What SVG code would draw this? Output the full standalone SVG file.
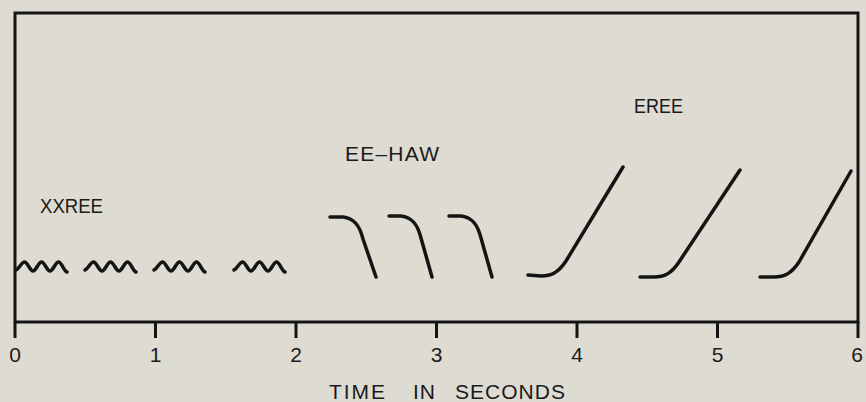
<svg xmlns="http://www.w3.org/2000/svg" width="866" height="402" viewBox="0 0 866 402">
<defs>
<style>
.bg{fill:#dedcd2}
.frame{fill:none;stroke:#141414;stroke-width:3}
.tick{stroke:#141414;stroke-width:3}
.tr{fill:none;stroke:#141414;stroke-width:3.5;stroke-linecap:round;stroke-linejoin:round}
.lbl{font-family:"Liberation Sans","DejaVu Sans",sans-serif;font-size:21px;fill:#1a1a1a}
.num{font-family:"Liberation Sans","DejaVu Sans",sans-serif;font-size:21px;fill:#1a1a1a;text-anchor:middle}
</style>
<path id="wave" d="M0,270 C3,269 5.5,262 8.5,262 C11.5,262 14,271 17,271 C20,271 22.5,262 25.5,262 C28.5,262 31,271 34,271 C37,271 39.5,262 42.5,262 C45.5,262 48,271 51,272"/>
</defs>
<rect class="bg" x="0" y="0" width="866" height="402"/>
<g id="axes">
<path class="frame" d="M15,322 L15,13 L858,13 L858,322 Z"/>
<line class="tick" x1="15" y1="322" x2="15" y2="338"/>
<line class="tick" x1="155.5" y1="322" x2="155.5" y2="338"/>
<line class="tick" x1="296" y1="322" x2="296" y2="338"/>
<line class="tick" x1="436.5" y1="322" x2="436.5" y2="338"/>
<line class="tick" x1="577" y1="322" x2="577" y2="338"/>
<line class="tick" x1="717.5" y1="322" x2="717.5" y2="338"/>
<line class="tick" x1="858" y1="322" x2="858" y2="338"/>
<text class="num" x="15" y="362">0</text>
<text class="num" x="155.5" y="362">1</text>
<text class="num" x="296" y="362">2</text>
<text class="num" x="436.5" y="362">3</text>
<text class="num" x="577" y="362">4</text>
<text class="num" x="717.5" y="362">5</text>
<text class="num" x="857" y="362">6</text>
<text class="lbl" x="329" y="399" textLength="56" lengthAdjust="spacing">TIME</text>
<text class="lbl" x="413" y="399" textLength="22" lengthAdjust="spacing">IN</text>
<text class="lbl" x="455" y="399" textLength="110" lengthAdjust="spacing">SECONDS</text>
</g>
<g id="xxree">
<text class="lbl" x="40" y="213" textLength="63" lengthAdjust="spacingAndGlyphs">XXREE</text>
<use href="#wave" class="tr" transform="translate(16,0)"/>
<use href="#wave" class="tr" transform="translate(85,0)"/>
<use href="#wave" class="tr" transform="translate(154,0)"/>
<use href="#wave" class="tr" transform="translate(234,0)"/>
</g>
<g id="eehaw">
<text class="lbl" x="345" y="161" textLength="94" lengthAdjust="spacing">EE–HAW</text>
<path class="tr" d="M330,217 L343,217 C355,218 360,227 363,239 L376,277"/>
<path class="tr" d="M389,216 L401,216 C413,217 418,226 421,238 L432,277"/>
<path class="tr" d="M449,216 L461,216 C473,217 478,226 481,238 L492,277"/>
</g>
<g id="eree">
<text class="lbl" x="634" y="113" textLength="49" lengthAdjust="spacingAndGlyphs">EREE</text>
<path class="tr" d="M528,275 L541,276 C551,276 558,273 566,261 L623,167"/>
<path class="tr" d="M640,277 L654,277 C664,277 671,274 679,262 L740,170"/>
<path class="tr" d="M760,277 L774,277 C784,277 791,274 799,262 L851,171"/>
</g>
</svg>
